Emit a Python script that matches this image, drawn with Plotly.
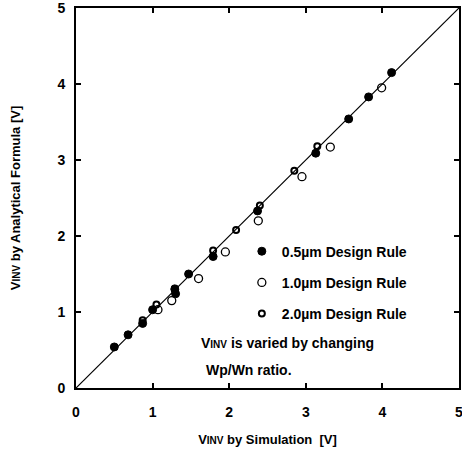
import plotly.graph_objects as go

# 0.5 um design rule (filled)
x05 = [0.50, 0.68, 0.87, 1.00, 1.29, 1.30, 1.47, 1.79, 2.37, 3.13, 3.56, 3.82, 4.12]
y05 = [0.54, 0.70, 0.85, 1.03, 1.30, 1.24, 1.50, 1.73, 2.33, 3.09, 3.54, 3.83, 4.15]
# 1.0 um design rule (open, large)
x10 = [1.07, 1.25, 1.60, 1.95, 2.38, 2.95, 3.32, 3.99]
y10 = [1.03, 1.15, 1.44, 1.79, 2.20, 2.78, 3.17, 3.95]
# 2.0 um design rule (open, small)
x20 = [0.87, 1.05, 1.29, 1.79, 2.09, 2.40, 2.85, 3.15]
y20 = [0.89, 1.10, 1.31, 1.81, 2.08, 2.40, 2.86, 3.18]
# ideal line
xl = [0, 5]
yl = [0, 5]
ticks = [0, 1, 2, 3, 4, 5]
tick_labels = ["0", "1", "2", "3", "4", "5"]

VINV = "V<span style='font-size:10px'>INV</span>"
FONT = "Liberation Sans, Arial, sans-serif"

fig = go.Figure()
fig.add_trace(go.Scatter(x=xl, y=yl, mode="lines", line=dict(color="black", width=1.2),
                         showlegend=False, hoverinfo="skip"))
fig.add_trace(go.Scatter(x=x05, y=y05, mode="markers", name="<b>0.5\u00b5m Design Rule</b>",
                         legendgroup="a",
                         marker=dict(symbol="circle", size=8, color="black",
                                     line=dict(color="black", width=1))))
fig.add_trace(go.Scatter(x=x10, y=y10, mode="markers", name="<b>1.0\u00b5m Design Rule</b>",
                         legendgroup="b",
                         marker=dict(symbol="circle-open", size=8, color="black",
                                     line=dict(color="black", width=1.3))))
fig.add_trace(go.Scatter(x=x20, y=y20, mode="markers", name="<b>2.0\u00b5m Design Rule</b>",
                         legendgroup="c",
                         marker=dict(symbol="circle-open", size=6, color="black",
                                     line=dict(color="black", width=2))))

fig.add_annotation(xref="paper", yref="paper", x=0.32, y=0.118, xanchor="left", yanchor="middle",
                   text="<b>" + VINV + " is varied by changing</b>", showarrow=False,
                   font=dict(family=FONT, size=14, color="black"))
fig.add_annotation(xref="paper", yref="paper", x=0.333, y=0.047, xanchor="left", yanchor="middle",
                   text="<b>Wp/Wn ratio.</b>", showarrow=False,
                   font=dict(family=FONT, size=14, color="black"))

axis_common = dict(range=[0, 5], tickvals=ticks, ticktext=["<b>" + t + "</b>" for t in tick_labels],
                   ticks="inside", ticklen=5, tickwidth=1.5,
                   tickcolor="black", showline=True, linecolor="black", linewidth=1.8,
                   mirror="ticks", showgrid=False, zeroline=False, automargin=False,
                   ticklabeloverflow="allow",
                   tickfont=dict(family=FONT, size=14, color="black"))

fig.update_layout(
    width=462, height=458,
    margin=dict(l=76, r=3, t=8, b=70),
    paper_bgcolor="white", plot_bgcolor="white",
    font=dict(family=FONT, color="black"),
    xaxis=dict(**axis_common, ticklabelstandoff=10,
               title=dict(text="<b>" + VINV + " by Simulation  [V]</b>",
                          font=dict(family=FONT, size=13, color="black"), standoff=16)),
    yaxis=dict(**axis_common, ticklabelstandoff=6,
               title=dict(text="<b>" + VINV + " by Analytical Formula [V]</b>",
                          font=dict(family=FONT, size=13, color="black"), standoff=34)),
    legend=dict(x=0.433, y=0.401, xanchor="left", yanchor="top", bgcolor="rgba(0,0,0,0)",
                font=dict(family=FONT, size=14, color="black"),
                traceorder="grouped", tracegroupgap=10, itemwidth=30),
)

fig.write_html("out.html", config={"displayModeBar": False},
               post_script="document.body.style.margin='0';")
